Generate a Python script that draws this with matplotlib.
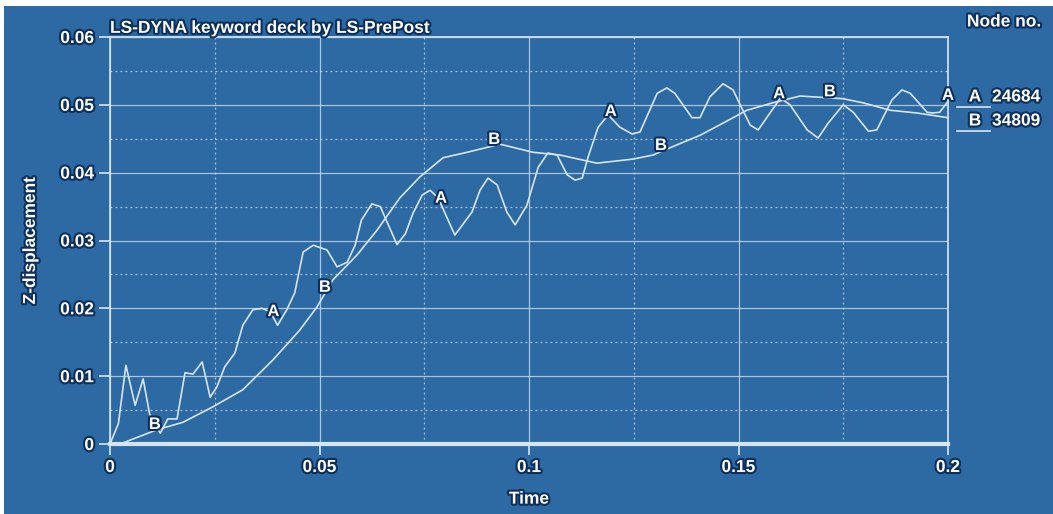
import numpy as np
import matplotlib.pyplot as plt
import matplotlib.patheffects as pe
from matplotlib.patches import Rectangle
from matplotlib.ticker import MultipleLocator

# node A (24684), oscillating response
t_a = [0.0, 0.002, 0.0038, 0.006, 0.0079, 0.0095, 0.012, 0.0138, 0.016, 0.0179,
       0.0198, 0.022, 0.0239, 0.0255, 0.0274, 0.0298, 0.0317, 0.0341, 0.0363, 0.0382,
       0.040, 0.0422, 0.0441, 0.0461, 0.0485, 0.0518, 0.0542, 0.0566, 0.0585, 0.0600,
       0.0625, 0.0645, 0.0685, 0.0705, 0.0723, 0.0745, 0.0764, 0.0783, 0.0823, 0.0864,
       0.0883, 0.0902, 0.0924, 0.0947, 0.0967, 0.0995, 0.1022, 0.1045, 0.1067, 0.1091,
       0.111, 0.1127, 0.1141, 0.1165, 0.1189, 0.1217, 0.1246, 0.1265, 0.1306, 0.1329,
       0.1348, 0.1389, 0.1408, 0.1432, 0.1463, 0.1487, 0.1504, 0.1528, 0.1547, 0.160,
       0.1623, 0.1664, 0.169, 0.1714, 0.175, 0.1774, 0.181, 0.183, 0.1866, 0.189,
       0.191, 0.195, 0.1964, 0.198, 0.2]
z_a = [0.0, 0.003, 0.0116, 0.0057, 0.0096, 0.0043, 0.0016, 0.0037, 0.0037, 0.0105,
       0.0103, 0.0121, 0.0069, 0.0084, 0.0114, 0.0134, 0.0175, 0.0198, 0.0200, 0.0195,
       0.0175, 0.0198, 0.0223, 0.0283, 0.0293, 0.0286, 0.0261, 0.0268, 0.0293, 0.0330,
       0.0354, 0.0350, 0.0294, 0.0310, 0.0340, 0.0367, 0.0374, 0.0363, 0.0308, 0.0342,
       0.0374, 0.0392, 0.0382, 0.0342, 0.0323, 0.0352, 0.0408, 0.0429, 0.0426, 0.0397,
       0.0389, 0.0392, 0.0423, 0.0467, 0.0485, 0.0467, 0.0457, 0.0460, 0.0517, 0.0525,
       0.0517, 0.0481, 0.0481, 0.0512, 0.0531, 0.0522, 0.0500, 0.0470, 0.0463, 0.0510,
       0.0500, 0.0463, 0.0451, 0.0473, 0.0500, 0.0489, 0.0461, 0.0463, 0.0507, 0.0522,
       0.0517, 0.0489, 0.0488, 0.0489, 0.0505]

# node B (34809), smooth response
t_b = [0.0024, 0.0112, 0.0174, 0.0246, 0.0317, 0.0389, 0.0453, 0.0494, 0.0532, 0.059,
       0.0637, 0.0692, 0.074, 0.0795, 0.0852, 0.0931, 0.101, 0.1074, 0.1162, 0.1248,
       0.1296, 0.1353, 0.1408, 0.1463, 0.152, 0.1582, 0.1647, 0.175, 0.1797, 0.1862,
       0.1926, 0.2]
z_b = [0.0, 0.0021, 0.0032, 0.0055, 0.008, 0.0124, 0.0168, 0.0202, 0.0242, 0.0279,
       0.0315, 0.0363, 0.0394, 0.0422, 0.043, 0.0442, 0.043, 0.0426, 0.0414, 0.042,
       0.0426, 0.0441, 0.0455, 0.0473, 0.0492, 0.0503, 0.0513, 0.0509, 0.0503, 0.0492,
       0.0488, 0.0481]

x_ticks = [0, 0.05, 0.1, 0.15, 0.2]
x_labels = ["0", "0.05", "0.1", "0.15", "0.2"]
y_ticks = [0, 0.01, 0.02, 0.03, 0.04, 0.05, 0.06]
y_labels = ["0", "0.01", "0.02", "0.03", "0.04", "0.05", "0.06"]

label_t_a = [0.039, 0.079, 0.1195, 0.1597, 0.2]
label_t_b = [0.0107, 0.0513, 0.0917, 0.1315, 0.1718]
legend_keys = ["A", "B"]
legend_nodes = ["24684", "34809"]

bg = "#2d69a3"
fg = "#d6e5f3"
glow = [pe.withStroke(linewidth=3, foreground="#0d2f5c")]
font = ["Liberation Sans Narrow", "Liberation Sans", "DejaVu Sans"]

fig = plt.figure(figsize=(10.53, 5.14), dpi=100, facecolor="white")
fig.patches.append(Rectangle((4 / 1053, 0), 1 - 4 / 1053, 1 - 6 / 514,
                             transform=fig.transFigure, facecolor=bg, zorder=-10))
ax = fig.add_axes([110 / 1053, 70 / 514, 838 / 1053, 407 / 514])
ax.set_facecolor(bg)

ax.set_xlim(0, 0.2)
ax.set_ylim(0, 0.06)
ax.set_xticks(x_ticks)
ax.set_xticklabels(x_labels)
ax.set_yticks(y_ticks)
ax.set_yticklabels(y_labels)
ax.xaxis.set_minor_locator(MultipleLocator(0.025))
ax.yaxis.set_minor_locator(MultipleLocator(0.005))

ax.grid(which="major", color=fg, lw=0.9, alpha=0.75)
ax.grid(which="minor", color=fg, lw=0.9, ls=(0, (1.5, 2.5)), alpha=0.75)
ax.tick_params(which="major", colors=fg, length=8, width=1.2, labelsize=12.5,
               labelcolor="white")
ax.tick_params(which="minor", length=0)
for lab in ax.get_xticklabels() + ax.get_yticklabels():
    lab.set_fontweight("bold")
    lab.set_family(font)
    lab.set_path_effects(glow)

for side in ["left", "right", "top"]:
    ax.spines[side].set_color(fg)
    ax.spines[side].set_linewidth(1.2)
ax.spines["bottom"].set_color(fg)
ax.spines["bottom"].set_linewidth(3)

ax.plot(t_a, z_a, color=fg, lw=1.2, clip_on=False)
ax.plot(t_b, z_b, color=fg, lw=1.2, clip_on=False)

for t in label_t_a:
    ax.text(t, np.interp(t, t_a, z_a) + 0.0009, "A", color="white", fontsize=12,
            fontweight="bold", family=font, ha="center", va="center",
            path_effects=glow, clip_on=False)
for t in label_t_b:
    ax.text(t, np.interp(t, t_b, z_b) + 0.0009, "B", color="white", fontsize=12,
            fontweight="bold", family=font, ha="center", va="center",
            path_effects=glow, clip_on=False)

ax.set_title("LS-DYNA keyword deck by LS-PrePost", loc="left", color="white",
             fontsize=12.5, fontweight="bold", family=font, pad=3, path_effects=glow)
ax.set_xlabel("Time", color="white", fontsize=12.5, fontweight="bold", family=font,
              path_effects=glow, labelpad=12)
ax.set_ylabel("Z-displacement", color="white", fontsize=12.5, fontweight="bold",
              family=font, path_effects=glow, labelpad=16)

# right-hand legend
fig.text(1004 / 1053, 1 - 22 / 514, "Node no.", color="white", fontsize=12.5,
         fontweight="bold", family=font, ha="center", va="center", path_effects=glow)
for i, (key, node) in enumerate(zip(legend_keys, legend_nodes)):
    y = 1 - (97 + 24 * i) / 514
    fig.text(975 / 1053, y, key, color="white", fontsize=12.5, fontweight="bold",
             family=font, ha="center", va="center", path_effects=glow)
    fig.text(992 / 1053, y, node, color="white", fontsize=12.5, fontweight="bold",
             family=font, ha="left", va="center", path_effects=glow)
    fig.add_artist(plt.Line2D([957 / 1053, 990 / 1053], [y - 10 / 514, y - 10 / 514],
                              color=fg, lw=1.2))

fig.savefig("out.png", dpi=100, facecolor="white")
